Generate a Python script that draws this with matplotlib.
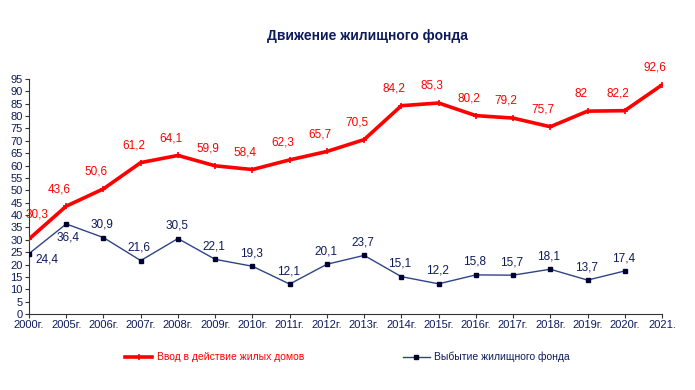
import matplotlib
matplotlib.use('Agg')
import matplotlib.pyplot as plt
from matplotlib.lines import Line2D

plt.rcParams['font.family'] = ['Liberation Sans', 'DejaVu Sans']

# --- данные ---
years = ['2000г.', '2005г.', '2006г.', '2007г.', '2008г.', '2009г.', '2010г.', '2011г.',
         '2012г.', '2013г.', '2014г.', '2015г.', '2016г.', '2017г.', '2018г.', '2019г.',
         '2020г.', '2021.']
vvod = [30.3, 43.6, 50.6, 61.2, 64.1, 59.9, 58.4, 62.3, 65.7, 70.5, 84.2, 85.3,
        80.2, 79.2, 75.7, 82, 82.2, 92.6]
vybytie = [24.4, 36.4, 30.9, 21.6, 30.5, 22.1, 19.3, 12.1, 20.1, 23.7, 15.1, 12.2,
           15.8, 15.7, 18.1, 13.7, 17.4]

RED = '#ff0000'
NAVY = '#0d1a5c'
BLUE_LINE = '#2e4488'

fig = plt.figure(figsize=(6.95, 3.9), dpi=100)
ax = fig.add_axes([29 / 695, 1 - 314 / 390, (662 - 29) / 695, (314 - 79) / 390])

x = list(range(len(years)))
ax.plot(x, vvod, color=RED, lw=2.6, marker='+', ms=4, mew=1.2, zorder=3)
ax.plot(x[:len(vybytie)], vybytie, color=BLUE_LINE, lw=1.0, marker='s', ms=3.5,
        mfc='#000033', mec='#000033', zorder=3)


def fmt(v):
    return ('%g' % v).replace('.', ',')


# подписи значений
for i, v in enumerate(vvod):
    off = (-5, 8)
    if i == 0:
        off = (6, 13)
    ax.annotate(fmt(v), (i, v), xytext=off, textcoords='offset points',
                ha='center', va='bottom', color=RED, fontsize=8.5, clip_on=False)

for i, v in enumerate(vybytie):
    if i == 0:
        ax.annotate(fmt(v), (i, v), xytext=(13, -4), textcoords='offset points',
                    ha='center', va='center', color=NAVY, fontsize=8.5)
    elif i == 1:
        ax.annotate(fmt(v), (i, v), xytext=(1, -10), textcoords='offset points',
                    ha='center', va='center', color=NAVY, fontsize=8.5)
    else:
        ax.annotate(fmt(v), (i, v), xytext=(-1, 5), textcoords='offset points',
                    ha='center', va='bottom', color=NAVY, fontsize=8.5)

ax.set_xlim(0, len(years) - 1)
ax.set_ylim(0, 95)
ax.set_yticks(range(0, 96, 5))
ax.set_xticks(x)
ax.set_xticklabels(years)
ax.tick_params(axis='both', labelsize=8, labelcolor=NAVY, color='#333333',
               length=3, width=0.8, pad=1.5)
for s in ['top', 'right']:
    ax.spines[s].set_visible(False)
for s in ['left', 'bottom']:
    ax.spines[s].set_color('#333333')
    ax.spines[s].set_linewidth(0.8)

fig.text(367 / 695, 1 - 36 / 390, 'Движение жилищного фонда', ha='center',
         va='center', color=NAVY, fontsize=10, fontweight='bold')

# легенда
handles = [Line2D([], [], color=RED, lw=2.6, marker='+', ms=4, mew=1.2),
           Line2D([], [], color=BLUE_LINE, lw=1.0, marker='s', ms=3.5,
                  mfc='#000033', mec='#000033')]
leg = fig.legend(handles, ['Ввод в действие жилых домов', 'Выбытие жилищного фонда'],
                 loc='center', bbox_to_anchor=(0.5, 1 - 357 / 390), ncol=2,
                 frameon=False, fontsize=7.5, handlelength=2.6, handletextpad=0.4,
                 columnspacing=9.5)
for t, c in zip(leg.get_texts(), [RED, NAVY]):
    t.set_color(c)

fig.savefig('out.png', dpi=100)
